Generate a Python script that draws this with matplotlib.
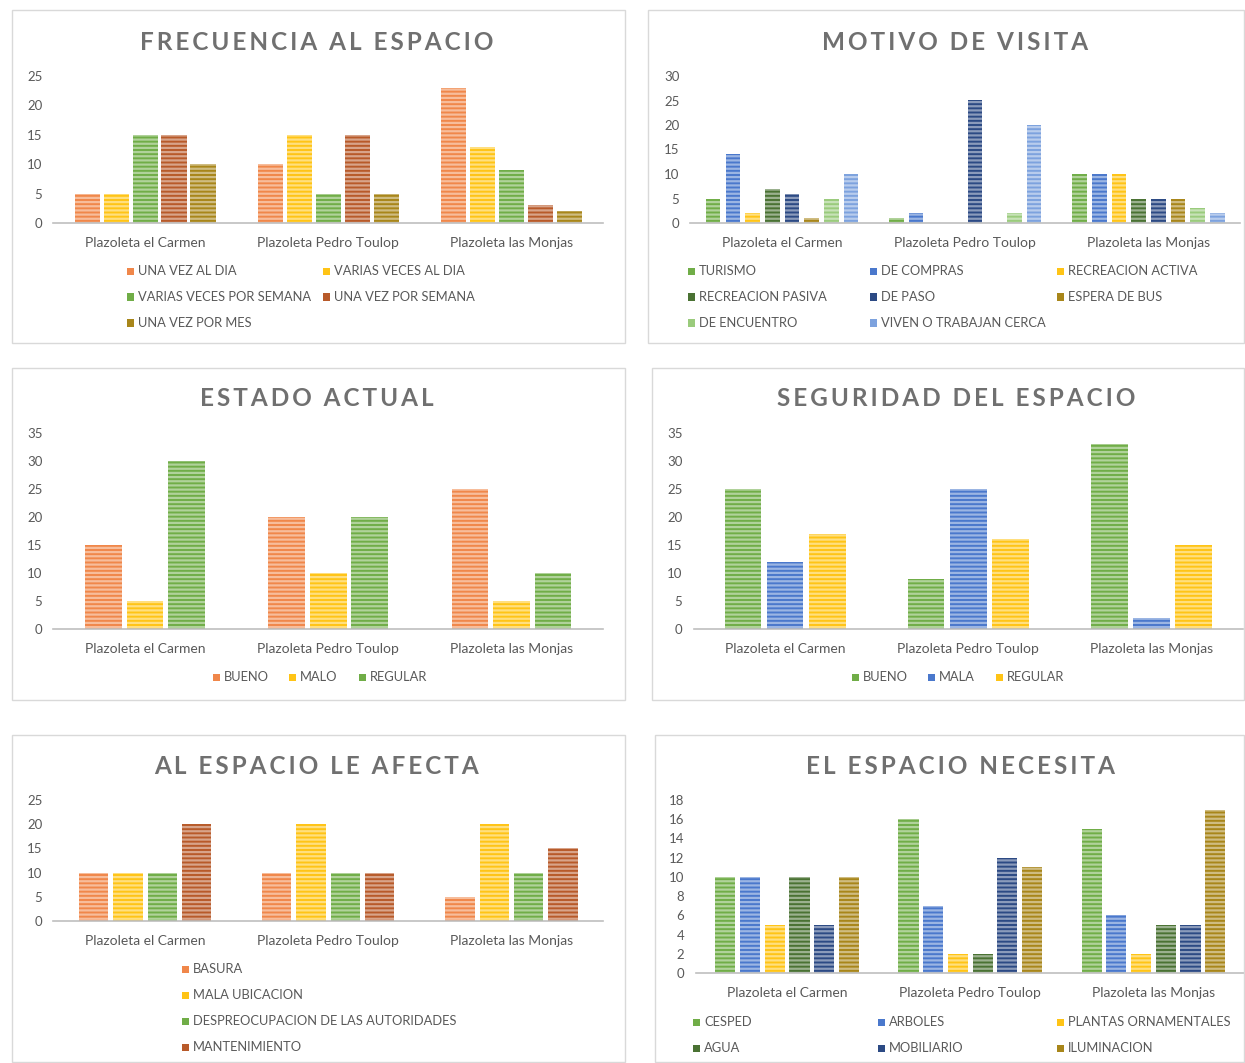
import numpy as np
import matplotlib
matplotlib.use("Agg")
import matplotlib.pyplot as plt
from matplotlib.patches import Rectangle
from matplotlib.colors import to_rgb

plt.rcParams['font.family'] = ['Lato', 'DejaVu Sans']
plt.rcParams['hatch.linewidth'] = 1.6

W, H = 1245, 1063
places = ["Plazoleta el Carmen", "Plazoleta Pedro Toulop", "Plazoleta las Monjas"]

# colours (office-like)
ORANGE = "#F0874A"
YELLOW = "#FFC416"
GREEN = "#70AD47"
BROWN = "#B85A2A"
OLIVE = "#A8861A"
BLUE = "#4A78CC"
DKGREEN = "#4A7233"
DKBLUE = "#2C4A84"
LTGREEN = "#9ACB7C"
LTBLUE = "#7DA2DE"

# --- data ---
frec_labels = ["UNA VEZ AL DIA", "VARIAS VECES AL DIA", "VARIAS VECES POR SEMANA",
               "UNA VEZ POR SEMANA", "UNA VEZ POR MES"]
frec_vals = [[5, 5, 15, 15, 10],
             [10, 15, 5, 15, 5],
             [23, 13, 9, 3, 2]]

motivo_labels = ["TURISMO", "DE COMPRAS", "RECREACION ACTIVA", "RECREACION PASIVA",
                 "DE PASO", "ESPERA DE BUS", "DE ENCUENTRO", "VIVEN O TRABAJAN CERCA"]
motivo_vals = [[5, 14, 2, 7, 6, 1, 5, 10],
               [1, 2, 0, 0, 25, 0, 2, 20],
               [10, 10, 10, 5, 5, 5, 3, 2]]

estado_labels = ["BUENO", "MALO", "REGULAR"]
estado_vals = [[15, 5, 30],
               [20, 10, 20],
               [25, 5, 10]]

seg_labels = ["BUENO", "MALA", "REGULAR"]
seg_vals = [[25, 12, 17],
            [9, 25, 16],
            [33, 2, 15]]

afecta_labels = ["BASURA", "MALA UBICACION", "DESPREOCUPACION DE LAS AUTORIDADES", "MANTENIMIENTO"]
afecta_vals = [[10, 10, 10, 20],
               [10, 20, 10, 10],
               [5, 20, 10, 15]]

nec_labels = ["CESPED", "ARBOLES", "PLANTAS ORNAMENTALES", "AGUA", "MOBILIARIO", "ILUMINACION"]
nec_vals = [[10, 10, 5, 10, 5, 10],
            [16, 7, 2, 2, 12, 11],
            [15, 6, 2, 5, 5, 17]]

fig = plt.figure(figsize=(W / 100, H / 100), dpi=100)


def px_rect(x0, y0, x1, y1):
    return [x0 / W, 1 - y1 / H, (x1 - x0) / W, (y1 - y0) / H]


def lighter(c, f=0.45):
    r, g, b = to_rgb(c)
    return (r + (1 - r) * f, g + (1 - g) * f, b + (1 - b) * f)


def box(x0, y0, x1, y1):
    fig.patches.append(Rectangle((x0 / W, 1 - y1 / H), (x1 - x0) / W, (y1 - y0) / H,
                                 transform=fig.transFigure, fill=False,
                                 edgecolor="#D9D9D9", linewidth=1.0))


def panel(title, tpos, ax_px, vals, labels, colors, ymax, ystep, group, bw,
          leg_pos):
    ax = fig.add_axes(px_rect(*ax_px))
    vals = np.array(vals)
    n = vals.shape[1]
    slot = group / n
    x = np.arange(3)
    for i in range(n):
        off = -group / 2 + slot * (i + 0.5)
        ax.bar(x + off, vals[:, i], bw, color=colors[i],
               edgecolor=lighter(colors[i]), linewidth=0, hatch="----")
    ax.set_xlim(-0.5, 2.5)
    ax.set_ylim(0, ymax)
    ax.set_yticks(np.arange(0, ymax + 1, ystep))
    ax.set_xticks(x)
    ax.set_xticklabels(places)
    ax.tick_params(axis="y", length=0, labelsize=9.5, colors="#595959", pad=8)
    ax.tick_params(axis="x", length=0, labelsize=10, colors="#595959", pad=10)
    for s in ["top", "right", "left"]:
        ax.spines[s].set_visible(False)
    ax.spines["bottom"].set_color("#BFBFBF")
    ax.spines["bottom"].set_linewidth(1.2)
    spaced = "\u2009".join(title)
    fig.text(tpos[0] / W, 1 - tpos[1] / H, spaced, ha="center", va="center",
             fontsize=17.5, fontweight="bold", color="#707070")
    for lab, col, (lx, ly) in zip(labels, colors, leg_pos):
        fig.patches.append(Rectangle(((lx - 11) / W, 1 - (ly + 3.5) / H), 7 / W, 7 / H,
                                     transform=fig.transFigure, facecolor=col,
                                     edgecolor="none"))
        fig.text(lx / W, 1 - ly / H, lab, ha="left", va="center",
                 fontsize=9.3, color="#595959")
    return ax


# borders
box(12, 10, 625, 343)
box(648, 10, 1244, 343)
box(12, 368, 625, 700)
box(652, 368, 1244, 700)
box(12, 735, 625, 1062)
box(655, 735, 1244, 1062)

panel("FRECUENCIA AL ESPACIO", (317, 42),
      (53.5, 76, 603, 223), frec_vals, frec_labels,
      [ORANGE, YELLOW, GREEN, BROWN, OLIVE], 25, 5, 0.79, 0.137,
      [(138, 271), (334, 271), (138, 297), (334, 297), (138, 323)])

panel("MOTIVO DE VISITA", (955, 42),
      (690.5, 76, 1240, 223), motivo_vals, motivo_labels,
      [GREEN, BLUE, YELLOW, DKGREEN, DKBLUE, OLIVE, LTGREEN, LTBLUE], 30, 5, 0.86, 0.08,
      [(699, 271), (881, 271), (1068, 271), (699, 297), (881, 297), (1068, 297),
       (699, 323), (881, 323)])

panel("ESTADO ACTUAL", (317, 399),
      (53.5, 433, 603, 629), estado_vals, estado_labels,
      [ORANGE, YELLOW, GREEN], 35, 5, 0.68, 0.2,
      [(224, 677), (300, 677), (370, 677)])

panel("SEGURIDAD DEL ESPACIO", (956, 399),
      (693.5, 433, 1243, 629), seg_vals, seg_labels,
      [GREEN, BLUE, YELLOW], 35, 5, 0.69, 0.2,
      [(863, 677), (939, 677), (1007, 677)])

panel("AL ESPACIO LE AFECTA", (317, 766),
      (53.5, 800, 603, 921), afecta_vals, afecta_labels,
      [ORANGE, YELLOW, GREEN, BROWN], 25, 5, 0.75, 0.16,
      [(193, 969), (193, 995), (193, 1021), (193, 1047)])

panel("EL ESPACIO NECESITA", (960, 766),
      (695.5, 800, 1245, 973), nec_vals, nec_labels,
      [GREEN, BLUE, YELLOW, DKGREEN, DKBLUE, OLIVE], 18, 2, 0.81, 0.11,
      [(704, 1022), (889, 1022), (1068, 1022), (704, 1048), (889, 1048), (1068, 1048)])

fig.savefig("out.png", dpi=100)
